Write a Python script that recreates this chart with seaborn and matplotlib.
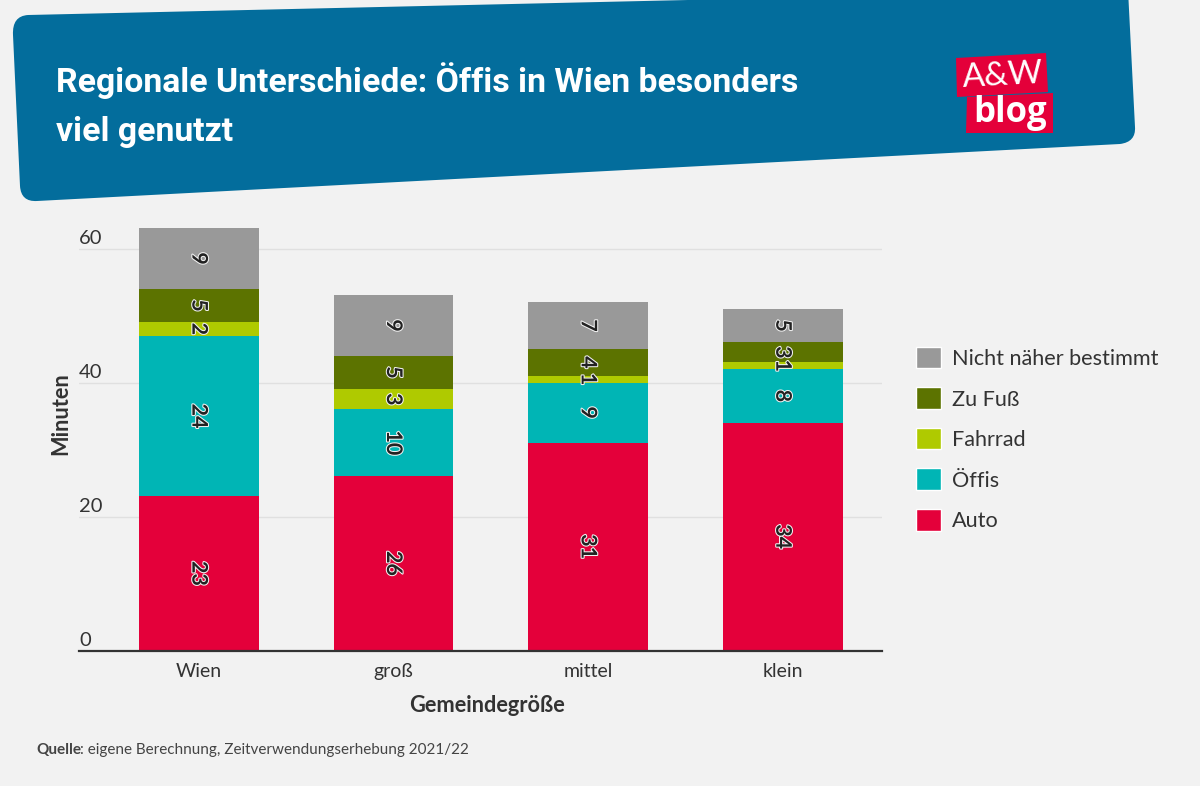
import matplotlib
matplotlib.use('Agg')
import matplotlib.pyplot as plt
import matplotlib.patheffects as pe
from matplotlib.patches import Patch, PathPatch, Polygon
from matplotlib.path import Path
from matplotlib.transforms import ScaledTranslation
import numpy as np
import pandas as pd
import seaborn as sns

categories = ['Wien', 'groß', 'mittel', 'klein']
auto = [23, 26, 31, 34]
oeffis = [24, 10, 9, 8]
fahrrad = [2, 3, 1, 1]
zu_fuss = [5, 5, 4, 3]
unbestimmt = [9, 9, 7, 5]

series_names = ['Auto', 'Öffis', 'Fahrrad', 'Zu Fuß', 'Nicht näher bestimmt']
series_values = [auto, oeffis, fahrrad, zu_fuss, unbestimmt]
series_colors = ['#e4003a', '#00b5b5', '#afca00', '#5c7300', '#999999']

BG = '#f2f2f2'
DARK = '#333333'
BLUE = '#036d9c'
FONT = ['Lato', 'DejaVu Sans']

sns.set_theme(style='whitegrid')
plt.rcParams['font.family'] = FONT
plt.rcParams['text.color'] = DARK

fig = plt.figure(figsize=(12, 7.86), dpi=100, facecolor=BG)

# header and logo are drawn in pixel coordinates on a background axes
bg = fig.add_axes([0, 0, 1, 1], zorder=0)
bg.set_xlim(0, 1200)
bg.set_ylim(786, 0)
bg.axis('off')

verts = [(28, 15), (1128, -10), (1135, 127), (1136, 142), (1120, 144), (37, 201),
         (21, 202), (20, 186), (13, 35), (12, 16), (28, 15)]
codes = [Path.MOVETO, Path.LINETO, Path.LINETO, Path.CURVE3, Path.CURVE3, Path.LINETO,
         Path.CURVE3, Path.CURVE3, Path.LINETO, Path.CURVE3, Path.CURVE3]
bg.add_patch(PathPatch(Path(verts, codes), facecolor=BLUE, edgecolor='none'))

bg.text(56, 81, 'Regionale Unterschiede: Öffis in Wien besonders', color='white', fontsize=24.3,
        fontweight='bold', family=['Roboto', 'DejaVu Sans'], va='center')
bg.text(56, 132, 'viel genutzt', color='white', fontsize=24.3,
        fontweight='bold', family=['Roboto', 'DejaVu Sans'], va='center')

bg.add_patch(Polygon([(956, 58), (1046, 53), (1048, 92), (957, 97)], facecolor='#e4003a', edgecolor='none'))
bg.add_patch(Polygon([(967, 97), (1053, 93), (1053, 133), (966, 133)], facecolor='#e4003a', edgecolor='none'))
bg.text(1003, 76, 'A&W', color='white', fontsize=24, rotation=3, ha='center', va='center',
        family=['Lato', 'DejaVu Sans'])
bg.text(1010, 113, 'blog', color='white', fontsize=25, ha='center', va='center',
        family=['Open Sans', 'DejaVu Sans'], fontweight='bold')

bg.text(36, 750, 'Quelle', fontsize=11, fontweight='bold', color='#444444', va='center')
bg.text(80, 750, ': eigene Berechnung, Zeitverwendungserhebung 2021/22', fontsize=10.95,
        color='#444444', va='center')

ax = fig.add_axes([79 / 1200, 1 - 650.5 / 786, 803 / 1200, 422.1 / 786], zorder=1)
ax.patch.set_alpha(0)

bottoms = np.zeros(len(categories))
for name, values, color in zip(series_names, series_values, series_colors):
    df = pd.DataFrame({'Gemeinde': categories, 'Minuten': values})
    sns.barplot(data=df, x='Gemeinde', y='Minuten', color=color, saturation=1, width=0.616,
                bottom=bottoms, ax=ax, errorbar=None, zorder=2, linewidth=0)
    bottoms = bottoms + np.array(values)

for container in ax.containers:
    ax.bar_label(container, label_type='center', rotation=-90, fontsize=15.5, color='#222222',
                 fontweight='bold',
                 path_effects=[pe.withStroke(linewidth=1.5, foreground='#f2f2f2')], zorder=5)

ax.set_xlim(-0.616, 3.51)
ax.set_ylim(0, 63)
ax.set_yticks([0, 20, 40, 60])

ax.grid(axis='y', color='#e0e0e0', linewidth=1)
ax.grid(axis='x', visible=False)
ax.set_axisbelow(True)
for side in ['left', 'right', 'top']:
    ax.spines[side].set_visible(False)
ax.spines['bottom'].set_color(DARK)
ax.spines['bottom'].set_linewidth(1.6)
ax.spines['bottom'].set_zorder(6)

ax.tick_params(axis='x', length=0, pad=9, labelsize=14, labelcolor=DARK)
ax.tick_params(axis='y', length=0, pad=0, labelsize=14.5, labelcolor=DARK)
for label in ax.get_yticklabels():
    label.set_ha('left')
    label.set_va('bottom')
    label.set_transform(label.get_transform() + ScaledTranslation(0, 1 / 72, fig.dpi_scale_trans))

ax.set_xlabel('Gemeindegröße', fontsize=15.7, fontweight='bold', color=DARK)
ax.set_ylabel('Minuten', fontsize=15.7, fontweight='bold', color=DARK)
ax.xaxis.set_label_coords(0.508, -0.105)
ax.yaxis.set_label_coords(-0.010, 0.56)

handles = [Patch(facecolor=c, label=n) for n, c in zip(series_names, series_colors)][::-1]
ax.legend(handles=handles, loc='center left', bbox_to_anchor=(1.042, 0.501), frameon=False,
          fontsize=15.6, handlelength=1.15, handleheight=1.15, labelspacing=0.85,
          handletextpad=0.51, borderpad=0, borderaxespad=0, labelcolor=DARK)

fig.savefig('out.png', dpi=100, facecolor=BG)
